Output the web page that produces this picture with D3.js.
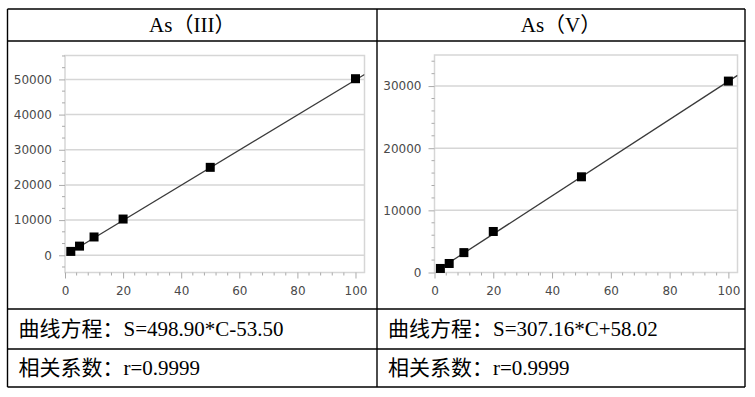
<!DOCTYPE html>
<html>
<head>
<meta charset="utf-8">
<script src="https://cdn.jsdelivr.net/npm/d3@7"></script>
<style>
  html, body { margin: 0; padding: 0; background: #fff; }
  svg { display: block; }
  .cell-text { font-family: "Times New Roman", "Liberation Serif", "Noto Sans CJK SC", serif; fill: #000; }
</style>
</head>
<body>
<div id="chart"></div>
<script>
// calibration data
const concLevels = [2, 5, 10, 20, 50, 100];
const as3Signal = [1100, 2600, 5200, 10300, 25000, 50200];
const as5Signal = [650, 1450, 3200, 6600, 15400, 30800];
const as3Fit = { slope: 498.90, intercept: -53.50 };
const as5Fit = { slope: 307.16, intercept: 58.02 };

const xTicks = [0, 20, 40, 60, 80, 100];
const as3YTicks = [0, 10000, 20000, 30000, 40000, 50000];
const as5YTicks = [0, 10000, 20000, 30000];

const titles = ['As（III）', 'As（V）'];
const equations = ['曲线方程：S=498.90*C-53.50', '曲线方程：S=307.16*C+58.02'];
const correlations = ['相关系数：r=0.9999', '相关系数：r=0.9999'];

const W = 755, H = 397;
const tableX = [7.5, 377, 745];
const tableY = [9, 41, 309, 349, 387];

const svg = d3.select('#chart').append('svg')
    .attr('width', W)
    .attr('height', H);

svg.append('rect').attr('width', W).attr('height', H).attr('fill', '#fff');

function styleTicks(sel) {
    sel.style('font-family', '"DejaVu Sans", Verdana, sans-serif')
        .style('font-size', '12px')
        .attr('fill', '#4a4a4a');
}

// panels
const panels = [
    { signal: as3Signal, fit: as3Fit, yTicks: as3YTicks, yDomain: [-4900, 56800], minorStep: 10000 / 3,
      left: 65, right: 364.5, top: 55.5, bottom: 272.5 },
    { signal: as5Signal, fit: as5Fit, yTicks: as5YTicks, yDomain: [0, 35000], minorStep: 2000,
      left: 434.5, right: 737.5, top: 55, bottom: 272.5 }
];

panels.forEach((p, idx) => {
    const x = d3.scaleLinear().domain([0, 103.1]).range([p.left, p.right]);
    const y = d3.scaleLinear().domain(p.yDomain).range([p.bottom, p.top]);
    const g = svg.append('g');

    // gridlines
    g.selectAll('.grid')
        .data(p.yTicks.filter(t => y(t) > p.top + 1 && y(t) < p.bottom - 1))
        .enter().append('line')
        .attr('x1', p.left).attr('x2', p.right)
        .attr('y1', d => y(d)).attr('y2', d => y(d))
        .attr('stroke', '#d6d6d6').attr('stroke-width', 1.5);

    // plot frame
    g.append('rect')
        .attr('x', p.left).attr('y', p.top)
        .attr('width', p.right - p.left).attr('height', p.bottom - p.top)
        .attr('fill', 'none').attr('stroke', '#d6d6d6').attr('stroke-width', 1.5);

    // y minor ticks
    const yMinor = d3.range(Math.ceil(p.yDomain[0] / p.minorStep) * p.minorStep, p.yDomain[1], p.minorStep)
        .filter(v => !p.yTicks.some(t => Math.abs(t - v) < 1));
    g.selectAll('.yminor').data(yMinor).enter().append('line')
        .attr('x1', p.left - 3).attr('x2', p.left)
        .attr('y1', d => y(d)).attr('y2', d => y(d))
        .attr('stroke', '#aaa').attr('stroke-width', 1);

    // y axis
    const yAxis = d3.axisLeft(y).tickValues(p.yTicks).tickSize(6).tickPadding(7).tickFormat(d3.format('d'));
    const ya = g.append('g').attr('transform', `translate(${p.left},0)`).call(yAxis);
    ya.select('.domain').remove();
    ya.selectAll('line').attr('stroke', '#aaa');
    styleTicks(ya.selectAll('text'));

    // x minor ticks
    const xMinor = d3.range(4, 103, 4).filter(v => v % 20 !== 0);
    g.selectAll('.xminor').data(xMinor).enter().append('line')
        .attr('x1', d => x(d)).attr('x2', d => x(d))
        .attr('y1', p.bottom).attr('y2', p.bottom + 3)
        .attr('stroke', '#aaa').attr('stroke-width', 1);

    // x axis
    const xAxis = d3.axisBottom(x).tickValues(xTicks).tickSize(6).tickPadding(8);
    const xa = g.append('g').attr('transform', `translate(0,${p.bottom})`).call(xAxis);
    xa.select('.domain').remove();
    xa.selectAll('line').attr('stroke', '#aaa');
    styleTicks(xa.selectAll('text'));

    // clip for fit line
    const clipId = 'clip' + idx;
    svg.append('clipPath').attr('id', clipId).append('rect')
        .attr('x', p.left).attr('y', p.top)
        .attr('width', p.right - p.left).attr('height', p.bottom - p.top);

    const fitPts = [concLevels[0], x.domain()[1]].map(c => [c, p.fit.slope * c + p.fit.intercept]);
    g.append('path')
        .attr('clip-path', `url(#${clipId})`)
        .attr('d', d3.line().x(d => x(d[0])).y(d => y(d[1]))(fitPts))
        .attr('fill', 'none').attr('stroke', '#3a3a3a').attr('stroke-width', 1.3);

    // markers
    const pts = concLevels.map((c, i) => ({ c, s: p.signal[i] }));
    g.selectAll('.pt').data(pts).enter().append('rect')
        .attr('x', d => x(d.c) - 4.5).attr('y', d => y(d.s) - 4.5)
        .attr('width', 9).attr('height', 9)
        .attr('fill', '#000');
});

// table grid
const tg = svg.append('g').attr('stroke', '#000').attr('stroke-width', 1.4);
tableY.forEach(yy => {
    tg.append('line').attr('x1', tableX[0]).attr('x2', tableX[2]).attr('y1', yy).attr('y2', yy);
});
tableX.forEach(xx => {
    tg.append('line').attr('x1', xx).attr('x2', xx).attr('y1', tableY[0]).attr('y2', tableY[4]);
});

// header texts
titles.forEach((t, i) => {
    svg.append('text').attr('class', 'cell-text')
        .attr('x', (tableX[i] + tableX[i + 1]) / 2)
        .attr('y', 32)
        .attr('text-anchor', 'middle')
        .style('font-size', '21px')
        .text(t);
});

equations.forEach((t, i) => {
    svg.append('text').attr('class', 'cell-text')
        .attr('x', tableX[i] + 11)
        .attr('y', 336)
        .style('font-size', '21px')
        .text(t);
});

correlations.forEach((t, i) => {
    svg.append('text').attr('class', 'cell-text')
        .attr('x', tableX[i] + 11)
        .attr('y', 375)
        .style('font-size', '21px')
        .text(t);
});
</script>
</body>
</html>
